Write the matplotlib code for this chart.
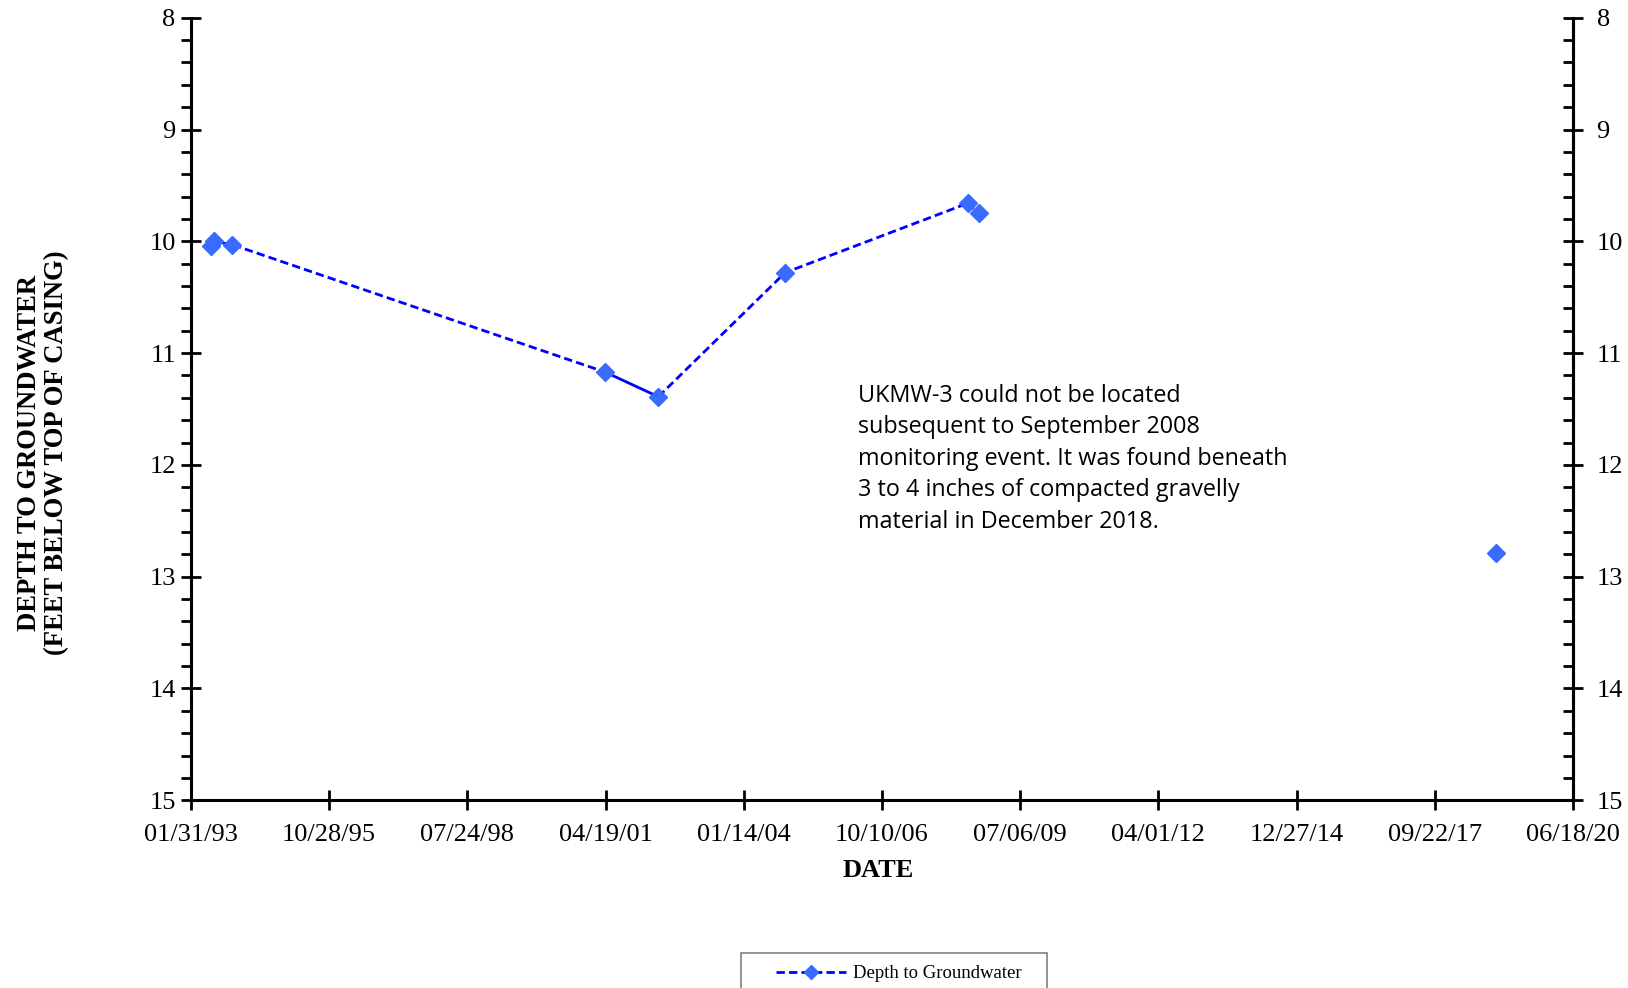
import datetime as dt
import matplotlib
matplotlib.use("Agg")
import matplotlib.pyplot as plt
import matplotlib.dates as mdates
from matplotlib.lines import Line2D
from matplotlib.patches import Rectangle

# measured depths (feet below top of casing)
dates = ["1993-06-23", "1993-07-15", "1993-11-27", "2001-04-17", "2002-05-06",
         "2004-11-08", "2008-06-20", "2008-09-11", "2018-12-06"]
depths = [10.04, 10.00, 10.03, 11.17, 11.39, 10.28, 9.66, 9.75, 12.79]

# x tick positions (Excel style, every 1000 days)
xtick_dates = ["1993-01-31", "1995-10-28", "1998-07-24", "2001-04-19", "2004-01-14",
               "2006-10-10", "2009-07-06", "2012-04-01", "2014-12-27", "2017-09-22",
               "2020-06-18"]

note = ("UKMW-3 could not be located\n"
        "subsequent to September 2008\n"
        "monitoring event. It was found beneath\n"
        "3 to 4 inches of compacted gravelly\n"
        "material in December 2018.")

x = [dt.datetime.strptime(d, "%Y-%m-%d") for d in dates]
xt = [dt.datetime.strptime(d, "%Y-%m-%d") for d in xtick_dates]

serif = "Liberation Serif"
line_c = "#0000ff"
mark_c = "#3a6bff"

fig = plt.figure(figsize=(16.28, 9.88), dpi=100)
ax = fig.add_axes([0.1173, 0.190, 0.9662 - 0.1173, 0.982 - 0.190])

# line segments - the style changes between surveys
ax.plot(x[0:4], depths[0:4], color=line_c, lw=2, ls=(0, (3, 1.5)))
ax.plot(x[3:5], depths[3:5], color=line_c, lw=2, ls="-")
ax.plot(x[4:7], depths[4:7], color=line_c, lw=2, ls=(0, (3, 1.5)))
ax.plot(x[6:8], depths[6:8], color=line_c, lw=2, ls=(0, (1, 1)))
ax.plot(x, depths, ls="none", marker="D", ms=9.5, color=mark_c, zorder=5)

ax.set_xlim(xt[0], xt[-1])
ax.set_ylim(15, 8)
ax.set_xticks(xt)
ax.xaxis.set_major_formatter(mdates.DateFormatter("%m/%d/%y"))
ax.set_yticks(range(8, 16))
ax.set_yticks([8 + 0.2 * i for i in range(36)], minor=True)

ax.spines["top"].set_visible(False)
for s in ["left", "right", "bottom"]:
    ax.spines[s].set_linewidth(2.2)

ax.tick_params(axis="both", which="major", direction="inout", length=14, width=2,
               labelsize=19, pad=4)
ax.tick_params(axis="x", which="major", pad=10)
ax.tick_params(axis="y", which="minor", direction="out", length=7, width=2)
ax.tick_params(axis="x", which="minor", length=0)
for lab in ax.get_xticklabels() + ax.get_yticklabels():
    lab.set_fontfamily(serif)

ax2 = ax.twinx()
ax2.set_ylim(15, 8)
ax2.set_yticks(range(8, 16))
ax2.set_yticks([8 + 0.2 * i for i in range(36)], minor=True)
ax2.spines["top"].set_visible(False)
ax2.spines["right"].set_linewidth(2.2)
ax2.tick_params(axis="y", which="major", direction="inout", length=14, width=2,
                labelsize=19, pad=10)
ax2.tick_params(axis="y", which="minor", direction="in", length=7, width=2)
for lab in ax2.get_yticklabels():
    lab.set_fontfamily(serif)

ax.set_xlabel("DATE", fontfamily=serif, fontweight="bold", fontsize=19, labelpad=9)
ax.xaxis.set_label_coords(0.497, -0.075)
fig.text(0.018, 0.542, "DEPTH TO GROUNDWATER", rotation=90, ha="center", va="center",
         fontfamily=serif, fontweight="bold", fontsize=19.2)
fig.text(0.035, 0.542, "(FEET BELOW TOP OF CASING)", rotation=90, ha="center", va="center",
         fontfamily=serif, fontweight="bold", fontsize=19.2)

ax.text(0.4824, 0.532, note, transform=ax.transAxes, ha="left", va="top",
        fontfamily="Open Sans", fontsize=16.8, linespacing=1.41)

# legend, with an Excel-like wide frame running off the bottom edge
handle = Line2D([], [], color=line_c, lw=2, ls=(0, (3, 1.5)), marker="D", ms=7,
                markerfacecolor=mark_c, markeredgecolor=mark_c)
fig.legend([handle], ["Depth to Groundwater"], loc="center left",
           bbox_to_anchor=(0.4769, 0.0145), frameon=False,
           prop={"family": serif, "size": 13.5}, handlelength=3.7,
           handletextpad=0.4, borderpad=0, borderaxespad=0)
fig.patches.append(Rectangle((0.4552, -0.05), 0.6431 - 0.4552, 0.05 + 0.0354,
                             transform=fig.transFigure, fill=False,
                             edgecolor="#808080", lw=1.2))

fig.savefig("out.png", dpi=100)
